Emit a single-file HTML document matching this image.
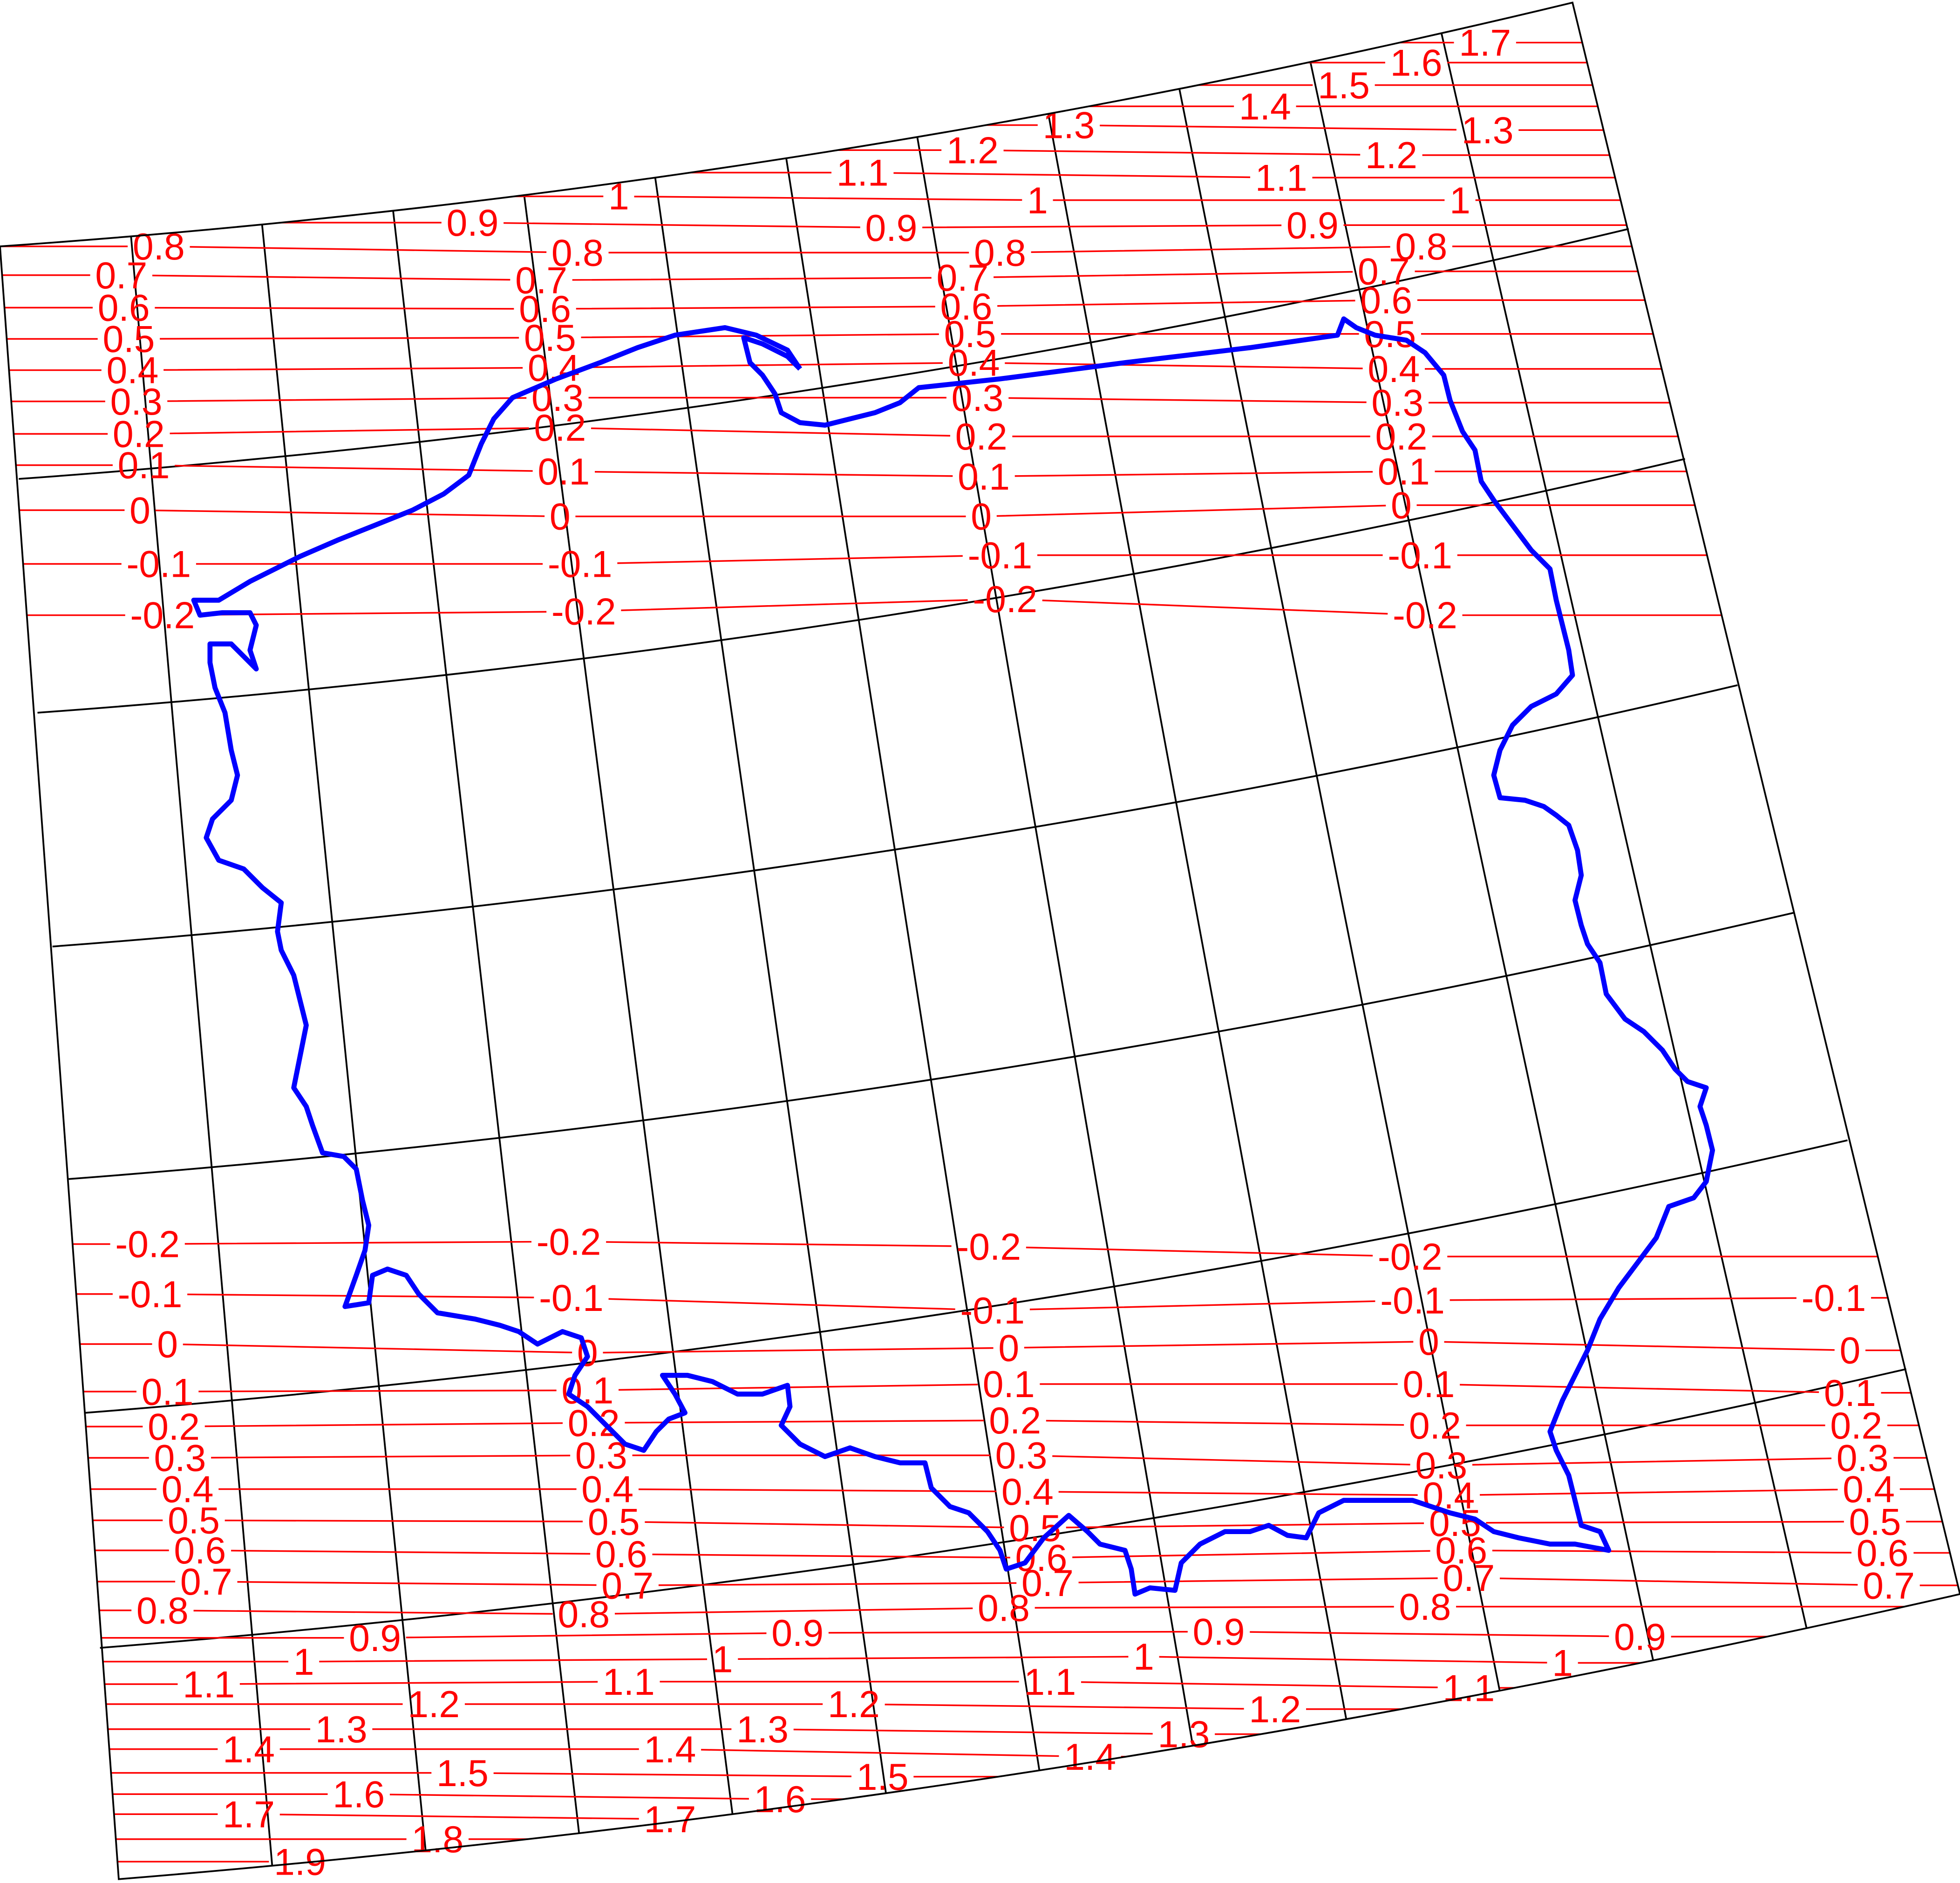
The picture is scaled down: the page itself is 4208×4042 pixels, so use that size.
<!DOCTYPE html>
<html><head><meta charset="utf-8"><style>
html,body{margin:0;padding:0;background:#fff;}
svg{display:block;}
text{font-family:"Liberation Sans",sans-serif;fill:#ff0000;}
</style></head><body>
<svg id="map" width="4208" height="4042" viewBox="0 0 1568 1506" xmlns="http://www.w3.org/2000/svg">
<defs><clipPath id="frameClip"><path id="clipPath" d=""/></clipPath></defs>
<g id="gridG"></g>
<g id="contourG" clip-path="url(#frameClip)"></g>
<g id="labelG"></g>
<path id="border" fill="none" stroke="#0000ff" stroke-width="4" stroke-linejoin="round"/>
<path id="frame" fill="none" stroke="#000" stroke-width="1.4"/>
</svg>
<script>
const NS='http://www.w3.org/2000/svg';
// parallels: left and right endpoints
const parLeft=[[0,197],[15,383],[30,570],[42,757],[55,943],[68,1130],[80,1318],[95,1503]];
const parRight=[[1258,2],[1303,183],[1348,367],[1390,548],[1435,730],[1478,912],[1525,1095],[1568,1275]];
const parSag=27;
const meridianCount=12;
// contour labels: [value, x, y]
const topLabels=[
[0.8,127,197],[0.8,462,202],[0.8,800,202],[0.8,1137,197],
[0.7,97,220],[0.7,433,224],[0.7,770,222],[0.7,1107,217],
[0.6,99,246],[0.6,436,247],[0.6,773,245],[0.6,1109,240],
[0.5,103,271],[0.5,440,270],[0.5,776,267],[0.5,1112,267],
[0.4,106,296],[0.4,443,294],[0.4,779,290],[0.4,1115,295],
[0.3,109,321],[0.3,446,318],[0.3,782,318],[0.3,1118,322],
[0.2,111,347],[0.2,448,342],[0.2,785,349],[0.2,1121,349],
[0.1,115,372],[0.1,451,377],[0.1,787,381],[0.1,1123,377],
[0,112,408],[0,448,413],[0,785,413],[0,1121,404],
[-0.1,127,451],[-0.1,464,451],[-0.1,800,444],[-0.1,1136,444],
[-0.2,130,492],[-0.2,467,489],[-0.2,804,479],[-0.2,1140,492],
[0.9,378,178],[0.9,713,182],[0.9,1050,180],
[1,495,157],[1,830,160],[1,1168,160],
[1.1,690,138],[1.1,1025,142],
[1.2,778,120],[1.2,1113,124],
[1.3,855,100],[1.3,1190,104],
[1.4,1012,85],[1.5,1075,68],[1.6,1133,50],[1.7,1188,34]];
const bottomLabels=[
[-0.2,118,995],[-0.2,455,993],[-0.2,791,997],[-0.2,1128,1005],
[-0.1,120,1035],[-0.1,457,1038],[-0.1,794,1048],[-0.1,1130,1040],[-0.1,1467,1038],
[0,134,1075],[0,470,1082],[0,807,1078],[0,1143,1073],[0,1480,1080],
[0.1,134,1113],[0.1,470,1112],[0.1,807,1107],[0.1,1143,1107],[0.1,1480,1114],
[0.2,139,1141],[0.2,475,1138],[0.2,812,1136],[0.2,1148,1140],[0.2,1485,1140],
[0.3,144,1166],[0.3,481,1164],[0.3,817,1164],[0.3,1153,1172],[0.3,1490,1166],
[0.4,150,1191],[0.4,486,1191],[0.4,822,1193],[0.4,1159,1196],[0.4,1495,1191],
[0.5,155,1216],[0.5,491,1217],[0.5,828,1222],[0.5,1164,1218],[0.5,1500,1217],
[0.6,160,1240],[0.6,497,1243],[0.6,833,1246],[0.6,1169,1240],[0.6,1506,1242],
[0.7,165,1265],[0.7,502,1268],[0.7,838,1266],[0.7,1175,1262],[0.7,1511,1268],
[0.8,130,1288],[0.8,467,1291],[0.8,803,1286],[0.8,1140,1285],
[0.9,300,1310],[0.9,638,1306],[0.9,975,1305],[0.9,1312,1309],
[1,243,1329],[1,578,1327],[1,915,1325],[1,1250,1330],
[1.1,167,1347],[1.1,503,1345],[1.1,840,1345],[1.1,1175,1350],
[1.2,347,1363],[1.2,683,1363],[1.2,1020,1367],
[1.3,273,1383],[1.3,610,1383],[1.3,947,1387],
[1.4,199,1399],[1.4,536,1399],[1.4,872,1405],
[1.5,370,1418],[1.5,706,1421],
[1.6,287,1435],[1.6,624,1439],
[1.7,199,1451],[1.7,536,1455],
[1.8,350,1471],[1.9,240,1489]];
const borderPts=[[640,295],[630,280],[605,268],[580,262],[540,268],[510,278],[480,290],[445,303],[410,318],[395,335],[385,355],[375,380],[355,395],[330,408],[300,420],[270,432],[240,445],[200,465],[175,480],[155,480],[160,492],[178,490],[200,490],[205,500],[200,520],[205,535],[195,525],[185,515],[168,515],[168,530],[172,550],[180,570],[185,600],[190,620],[185,640],[170,655],[165,670],[175,688],[195,695],[210,710],[225,722],[222,745],[225,760],[235,780],[240,800],[245,820],[240,845],[235,870],[245,885],[250,900],[258,922],[275,925],[285,935],[290,960],[295,980],[292,1000],[285,1020],[276,1045],[295,1042],[298,1020],[310,1015],[325,1020],[335,1035],[350,1050],[380,1055],[400,1060],[415,1065],[430,1075],[450,1065],[465,1070],[470,1085],[460,1100],[455,1115],[470,1125],[485,1140],[500,1155],[515,1160],[525,1145],[535,1135],[548,1130],[540,1115],[530,1100],[550,1100],[570,1105],[590,1115],[610,1115],[630,1108],[632,1125],[625,1140],[640,1155],[660,1165],[680,1158],[700,1165],[720,1170],[740,1170],[745,1190],[760,1205],[775,1210],[790,1225],[800,1240],[805,1255],[820,1250],[835,1230],[855,1212],[870,1225],[880,1235],[900,1240],[905,1255],[908,1275],[920,1270],[940,1272],[945,1250],[960,1235],[980,1225],[1000,1225],[1015,1220],[1030,1228],[1045,1230],[1055,1210],[1075,1200],[1100,1200],[1130,1200],[1160,1210],[1180,1215],[1195,1225],[1215,1230],[1240,1235],[1260,1235],[1287,1240],[1280,1225],[1265,1220],[1260,1200],[1255,1180],[1245,1160],[1240,1145],[1250,1120],[1260,1100],[1270,1080],[1280,1055],[1295,1030],[1310,1010],[1325,990],[1335,965],[1355,958],[1365,945],[1370,920],[1365,900],[1360,885],[1365,870],[1350,865],[1340,855],[1330,840],[1315,825],[1300,815],[1285,795],[1280,770],[1270,755],[1265,740],[1260,720],[1265,700],[1262,680],[1255,660],[1245,652],[1235,645],[1220,640],[1200,638],[1195,620],[1200,600],[1210,580],[1225,565],[1245,555],[1258,540],[1255,520],[1250,500],[1245,480],[1240,455],[1225,440],[1210,420],[1195,400],[1185,385],[1180,360],[1170,345],[1160,320],[1155,300],[1140,282],[1125,272],[1100,268],[1085,262],[1075,255],[1070,268],[1000,278],[900,290],[800,303],[735,310],[720,322],[700,330],[680,335],[660,340],[640,338],[625,330],[620,315],[610,300],[600,290],[595,270],[610,275],[630,285],[640,295]];

const FS=30;
function parPoint(i,t){const a=parLeft[i],b=parRight[i];
 const mx=(a[0]+b[0])/2,my=(a[1]+b[1])/2+2*parSag;
 return [(1-t)*(1-t)*a[0]+2*t*(1-t)*mx+t*t*b[0],(1-t)*(1-t)*a[1]+2*t*(1-t)*my+t*t*b[1]];}
function parD(i,rev){const a=parLeft[i],b=parRight[i];const mx=(a[0]+b[0])/2,my=(a[1]+b[1])/2+2*parSag;
 return rev?`L${b[0]},${b[1]} Q${mx},${my} ${a[0]},${a[1]}`:`M${a[0]},${a[1]} Q${mx},${my} ${b[0]},${b[1]}`;}
const last=parLeft.length-1;
const fd=parD(0,false)+` L${parRight[last][0]},${parRight[last][1]} `+parD(last,true).replace(/^L[^Q]*/,'L'+parRight[last][0]+','+parRight[last][1]+' ')+' Z';
document.getElementById('frame').setAttribute('d',fd);
document.getElementById('clipPath').setAttribute('d',fd);
const gridG=document.getElementById('gridG');
for(let i=1;i<last;i++){const p=document.createElementNS(NS,'path');
 p.setAttribute('d',parD(i,false));p.setAttribute('fill','none');p.setAttribute('stroke','#000');p.setAttribute('stroke-width','1.4');
 
 
 gridG.appendChild(p);}
for(let k=1;k<meridianCount;k++){const t=k/meridianCount;const a=parPoint(0,t),b=parPoint(last,t);
 const l=document.createElementNS(NS,'line');l.setAttribute('x1',a[0]);l.setAttribute('y1',a[1]);l.setAttribute('x2',b[0]);l.setAttribute('y2',b[1]);
 l.setAttribute('stroke','#000');l.setAttribute('stroke-width','1.4');
 
 
 gridG.appendChild(l);}
const contourG=document.getElementById('contourG'),labelG=document.getElementById('labelG');
function lw(v){const s=String(v);let w=0;for(const c of s)w+=(c=='.'?0.278:(c=='-'?0.333:0.556));return w*FS;}
function drawBlock(labels){
 const vals=[...new Set(labels.map(l=>l[0]))];
 vals.forEach(v=>{const pts=labels.filter(l=>l[0]===v).sort((a,b)=>a[1]-b[1]);
  const hw=lw(v)/2+4;
  const nodes=[[-20,pts[0][2],0]];pts.forEach(p=>nodes.push([p[1],p[2],hw]));nodes.push([1600,pts[pts.length-1][2],0]);
  let d='';
  for(let i=0;i<nodes.length-1;i++){const a=nodes[i],b=nodes[i+1];const len=b[0]-a[0];
   const s=a[2]/len,e=1-b[2]/len;
   d+=`M${a[0]+s*len},${a[1]+s*(b[1]-a[1])} L${a[0]+e*len},${a[1]+e*(b[1]-a[1])} `;}
  const p=document.createElementNS(NS,'path');p.setAttribute('d',d);p.setAttribute('stroke','#ff0000');p.setAttribute('stroke-width','1.3');p.setAttribute('fill','none');
  
  
  contourG.appendChild(p);
  pts.forEach(q=>{const t=document.createElementNS(NS,'text');t.setAttribute('x',q[1]);t.setAttribute('y',q[2]+10.5);t.setAttribute('text-anchor','middle');t.setAttribute('font-size',FS);
   t.textContent=String(v);
   
   
   labelG.appendChild(t);});
 });}
drawBlock(topLabels);drawBlock(bottomLabels);
document.getElementById('border').setAttribute('d','M'+borderPts.map(p=>p.join(',')).join(' L'));
</script>
</body></html>
